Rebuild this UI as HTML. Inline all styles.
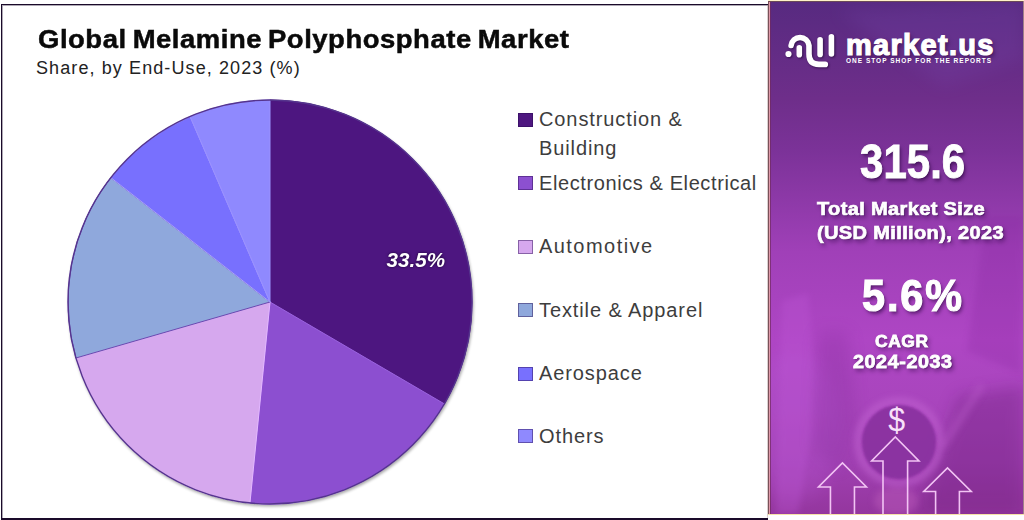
<!DOCTYPE html>
<html><head><meta charset="utf-8">
<style>
html,body{margin:0;padding:0;width:1024px;height:520px;overflow:hidden;background:#fff;}
body{position:relative;font-family:"Liberation Sans",sans-serif;}
.abs{position:absolute;white-space:nowrap;}
#left{position:absolute;left:1px;top:4px;width:767px;height:516px;border-left:1px solid #1a0a2a;border-top:1px solid #1a0a2a;border-bottom:2px solid #1a0a2a;box-sizing:border-box;background:#fff;box-shadow:inset 1px 1px 0 rgba(26,10,42,0.35);}
.title{left:38px;top:25.5px;font-size:26px;line-height:26px;font-weight:bold;color:#0a0a0a;letter-spacing:0.5px;word-spacing:-2px;transform:scaleX(1.056);transform-origin:0 0;-webkit-text-stroke:0.5px #0a0a0a;}
.sub{left:36px;top:58.8px;font-size:18px;line-height:18px;color:#222;letter-spacing:1.1px;}
.leg{font-size:20px;line-height:20px;color:#3d3d3d;letter-spacing:0.9px;}
.sq{position:absolute;width:15px;height:14px;box-sizing:border-box;border:1px solid rgba(40,10,80,0.45);}
#right{position:absolute;left:768px;top:1px;width:256px;height:513px;overflow:hidden;background:#8a3aa8;}
.edge{position:absolute;}
.w{color:#fff;font-weight:bold;text-shadow:1px 1px 1px rgba(50,10,70,0.5),2px 3px 4px rgba(40,0,60,0.55);-webkit-text-stroke:0.6px #fff;}
.w2{-webkit-text-stroke:1.2px #fff;}
</style></head><body>
<div id="left"></div>
<div class="abs title">Global Melamine Polyphosphate Market</div>
<div class="abs sub">Share, by End-Use, 2023 (%)</div>

<svg class="abs" style="left:0;top:0" width="768" height="520" viewBox="0 0 768 520">
<defs><filter id="sh" x="-10%" y="-10%" width="120%" height="120%"><feGaussianBlur in="SourceAlpha" stdDeviation="1.5"/><feOffset dx="1" dy="2"/><feComponentTransfer><feFuncA type="linear" slope="0.35"/></feComponentTransfer><feMerge><feMergeNode/><feMergeNode in="SourceGraphic"/></feMerge></filter></defs>
<g filter="url(#sh)" stroke-width="1" stroke-linejoin="round">
<path fill="#4e1780" stroke="#4a1a7a" d="M270 302L270.00 100.00A202 202 0 0 1 444.41 403.91Z"/>
<path fill="#8c50d0" stroke="#9a60e0" d="M270 302L444.41 403.91A202 202 0 0 1 249.94 503.00Z"/>
<path fill="#d6a8ee" stroke="#e4b8ff" d="M270 302L249.94 503.00A202 202 0 0 1 75.92 358.02Z"/>
<path fill="#8fa8dc" stroke="#6a48b0" d="M270 302L75.92 358.02A202 202 0 0 1 110.82 177.64Z"/>
<path fill="#7870fe" stroke="#a8a0f8" d="M270 302L110.82 177.64A202 202 0 0 1 190.10 116.47Z"/>
<path fill="#8f89fe" stroke="#9a90ff" d="M270 302L190.10 116.47A202 202 0 0 1 270.00 100.00Z"/>
</g>
<circle cx="270" cy="302" r="202" fill="none" stroke="#55348e" stroke-width="1.4"/>
<text x="445" y="267" font-family="Liberation Sans" font-size="20.6" font-weight="bold" font-style="italic" fill="#fff" text-anchor="end" style="filter:drop-shadow(0 0 1.5px rgba(20,0,40,0.9))">33.5%</text>
</svg>

<div class="sq" style="left:518px;top:112.5px;background:#4e1780"></div>
<div class="abs leg" style="left:539px;top:109.2px">Construction &amp;</div>
<div class="abs leg" style="left:539px;top:138.2px">Building</div>
<div class="sq" style="left:518px;top:176px;background:#8c50d0"></div>
<div class="abs leg" style="left:539px;top:173.1px;letter-spacing:0.6px">Electronics &amp; Electrical</div>
<div class="sq" style="left:518px;top:240px;background:#d6a8ee"></div>
<div class="abs leg" style="left:539px;top:236.1px;letter-spacing:1.45px">Automotive</div>
<div class="sq" style="left:518px;top:302.5px;background:#8fa8dc"></div>
<div class="abs leg" style="left:539px;top:299.8px">Textile &amp; Apparel</div>
<div class="sq" style="left:518px;top:366.5px;background:#7870fe"></div>
<div class="abs leg" style="left:539px;top:363px">Aerospace</div>
<div class="sq" style="left:518px;top:429px;background:#8f89fe"></div>
<div class="abs leg" style="left:539px;top:426.4px">Others</div>

<div id="right">
<svg class="abs" style="left:0;top:0" width="256" height="513" viewBox="0 0 256 513">
<defs>
<linearGradient id="bgv" x1="0" y1="0" x2="0" y2="1">
<stop offset="0" stop-color="#572a80"/>
<stop offset="0.19" stop-color="#6e2e8a"/>
<stop offset="0.29" stop-color="#7b3298"/>
<stop offset="0.49" stop-color="#a040b8"/>
<stop offset="0.66" stop-color="#ae46c4"/>
<stop offset="0.8" stop-color="#a845bc"/>
<stop offset="0.9" stop-color="#a040b2"/>
<stop offset="1" stop-color="#94369e"/>
</linearGradient>
<filter id="bl8" x="-50%" y="-50%" width="200%" height="200%"><feGaussianBlur stdDeviation="8"/></filter>
<filter id="bl3" x="-50%" y="-50%" width="200%" height="200%"><feGaussianBlur stdDeviation="3"/></filter>
<filter id="bl1" x="-50%" y="-50%" width="200%" height="200%"><feGaussianBlur stdDeviation="1.2"/></filter>
</defs>
<rect x="0" y="0" width="256" height="513" fill="url(#bgv)"/>
<path d="M70 10 L256 0 L256 58 L175 85 Z" fill="#7a48b0" opacity="0.22" filter="url(#bl8)"/>
<path d="M190 395 L256 385 L256 513 L150 513 L165 470 Z" fill="#6a1a78" opacity="0.35" filter="url(#bl8)"/>
<ellipse cx="25" cy="425" rx="50" ry="75" fill="#c060e0" opacity="0.2" filter="url(#bl8)"/>
<path d="M14 300 L40 292 L46 360 L44 430 L30 513 L8 513 Z" fill="#c058d8" opacity="0.3" filter="url(#bl3)"/>
<path d="M50 330 L80 330 L88 420 L70 470 L46 450 Z" fill="#7a2890" opacity="0.22" filter="url(#bl8)"/>
<path d="M218 215 L256 215 L252 372 L199 350 Z" fill="#82229a" opacity="0.2" filter="url(#bl3)"/>
<ellipse cx="128" cy="500" rx="22" ry="14" fill="#b858b8" opacity="0.5" filter="url(#bl3)"/>
<circle cx="131" cy="441" r="41" fill="none" stroke="#c466d4" stroke-width="7" opacity="0.55" filter="url(#bl3)"/>
<circle cx="131" cy="441" r="37" fill="#8a30a0" opacity="0.92" filter="url(#bl1)"/>
<path d="M214 384 L174 446" stroke="#b656c6" stroke-width="7" opacity="0.5" filter="url(#bl3)"/>
</svg>
<svg class="abs" style="left:0;top:0" width="256" height="513" viewBox="0 0 256 513">
<g style="filter:drop-shadow(1px 1.5px 1.2px rgba(30,5,50,0.7))">
<circle cx="20.5" cy="53" r="3.1" fill="#fff"/>
<g fill="none" stroke="#fff" stroke-width="5.6" stroke-linecap="round">
<path d="M23.1 44.5 A9 9 0 0 1 41 44.5 L41 53 Q41 63.4 51 63.4 L57.3 63.4"/>
<path d="M31.3 46.9 L31.3 53.8"/>
<path d="M52.1 38.7 L52.1 53.4"/>
<path d="M63.4 35.7 L63.4 53"/>
</g>
</g>
</svg>
<svg class="abs" style="left:0;top:0" width="256" height="513" viewBox="0 0 256 513">
<g fill="none" stroke="#f2c4f4" stroke-width="1.6" stroke-linejoin="miter">
<path d="M62.45 513.00 L62.45 486.00 L50.45 486.00 L74.45 462.00 L98.45 486.00 L86.45 486.00 L86.45 513.00"/>
<path d="M115.00 513.00 L115.00 460.00 L103.60 460.00 L127.30 436.00 L151.00 460.00 L139.60 460.00 L139.60 513.00"/>
<path d="M167.60 513.00 L167.60 490.50 L155.75 490.50 L179.50 467.00 L203.25 490.50 L191.40 490.50 L191.40 513.00"/>
</g>
<text x="128.8" y="430" font-family="Liberation Sans" font-size="33" fill="#f8e0fa" text-anchor="middle" transform="translate(128.8 0) scale(0.92 1) translate(-128.8 0)">$</text>
</svg>
<div class="abs w w2" style="left:78px;top:29.8px;font-size:29px;line-height:29px;letter-spacing:1.3px;">market.us</div>
<div class="abs" style="left:78px;top:56.4px;font-size:6.5px;line-height:7px;font-weight:bold;color:#fff;letter-spacing:1.0px;">ONE STOP SHOP FOR THE REPORTS</div>
<div class="abs w w2" style="left:92px;top:137.4px;font-size:47.5px;line-height:47.5px;transform:scaleX(0.885);transform-origin:0 0;-webkit-text-stroke:0.9px #fff;">315.6</div>
<div class="abs w" style="left:49px;top:198px;font-size:18.7px;line-height:20px;letter-spacing:0.3px;transform:scaleX(1.075);transform-origin:0 0;-webkit-text-stroke:0.7px #fff;">Total Market Size</div>
<div class="abs w" style="left:49px;top:222px;font-size:18.7px;line-height:20px;letter-spacing:0.3px;transform:scaleX(1.075);transform-origin:0 0;-webkit-text-stroke:0.7px #fff;">(USD Million), 2023</div>
<div class="abs w w2" style="left:93.7px;top:273.1px;font-size:44px;line-height:44px;letter-spacing:2px;transform:scaleX(0.94);transform-origin:0 0;">5.6%</div>
<div class="abs w" style="left:107px;top:332px;font-size:17px;line-height:18px;letter-spacing:0.5px;transform:scaleX(1.03);transform-origin:0 0;-webkit-text-stroke:0.8px #fff;">CAGR</div>
<div class="abs w" style="left:85px;top:352px;font-size:18px;line-height:18px;letter-spacing:0.5px;transform:scaleX(1.1);transform-origin:0 0;-webkit-text-stroke:0.8px #fff;">2024-2033</div>
</div>
<div class="edge" style="left:768px;top:0;width:256px;height:1px;background:#fff2c8"></div>
<div class="edge" style="left:768px;top:1px;width:256px;height:1px;background:#6a4a58"></div>
<div class="edge" style="left:768px;top:1px;width:1px;height:513px;background:#7a5058"></div>
<div class="edge" style="left:769px;top:2px;width:1px;height:512px;background:#e09aa8"></div>
<div class="edge" style="left:770px;top:2px;width:1px;height:512px;background:#702a60;opacity:0.7"></div>
<div class="edge" style="left:767px;top:5px;width:1px;height:513px;background:#b8a0a0;opacity:0.5"></div>
<div class="edge" style="left:1023px;top:1px;width:1px;height:513px;background:#a08088"></div>
<div class="edge" style="left:768px;top:514px;width:256px;height:1px;background:#f5e3a8"></div>
</body></html>
